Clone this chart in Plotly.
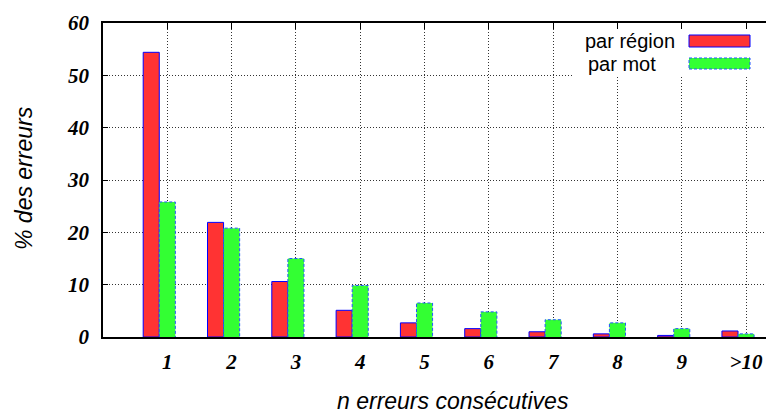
import plotly.graph_objects as go

categories = ["1", "2", "3", "4", "5", "6", "7", "8", "9", ">10"]
positions = [1, 2, 3, 4, 5, 6, 7, 8, 9, 10]
par_region = [54.4, 21.9, 10.6, 5.1, 2.7, 1.6, 1.0, 0.6, 0.3, 1.15]
par_mot = [25.8, 20.8, 15.0, 9.85, 6.5, 4.8, 3.3, 2.7, 1.6, 0.6]
y_ticks = [0, 10, 20, 30, 40, 50, 60]

W, H = 766, 416
L, R, T, B = 103, 0, 23, 79
PW, PH = W - L - R, H - T - B
XMAX = 10.31
BW = 0.25


def px(x):
    return (x - L) / PW


def py(y):
    return (H - B - y) / PH


tick_font = dict(family="Liberation Serif", size=21, color="black", weight="bold", style="italic")
sans = "Liberation Sans"

fig = go.Figure()
fig.add_trace(go.Bar(
    x=positions, y=par_region, width=BW, offset=-1.5 * BW,
    marker=dict(color="#ff3333", line=dict(color="#0000ff", width=1)),
    showlegend=False, name="par région"))
fig.add_trace(go.Bar(
    x=positions, y=par_mot, width=BW, offset=-0.5 * BW,
    marker=dict(color="#33ff33", line=dict(color="#33ff33", width=0)),
    showlegend=False, name="par mot"))

# dashed outline of the green bars, derived from the data
ox, oy = [], []
for p, v in zip(positions, par_mot):
    x0, x1 = p - 0.5 * BW, p + 0.5 * BW
    ox += [x0, x0, x1, x1, None]
    oy += [0, v, v, 0, None]
fig.add_trace(go.Scatter(x=ox, y=oy, mode="lines", line=dict(color="#2255ff", width=1, dash="3px,2px"),
                         showlegend=False, hoverinfo="skip"))
# dummy trace for top axis
fig.add_trace(go.Scatter(x=[], y=[], xaxis="x2", showlegend=False))

grid = dict(showgrid=True, gridcolor="#333", griddash="1px,2px", gridwidth=1)

fig.update_layout(
    width=W, height=H,
    margin=dict(l=L, r=R, t=T, b=B),
    paper_bgcolor="white", plot_bgcolor="white",
    barmode="overlay",
    xaxis=dict(range=[0, XMAX], tickvals=positions, ticktext=categories, tickfont=tick_font,
               showline=True, linecolor="black", linewidth=2, ticks="", zeroline=False,
               ticklabelstandoff=5, **grid),
    xaxis2=dict(range=[0, XMAX], overlaying="x", side="top", anchor="y", tickvals=positions,
                showticklabels=False, showgrid=False, showline=True, linecolor="black", linewidth=1.5,
                ticks="inside", ticklen=6, tickcolor="black", zeroline=False),
    yaxis=dict(range=[0, 60], tickvals=y_ticks, tickfont=tick_font,
               showline=True, linecolor="black", linewidth=1.5, ticks="inside", ticklen=5,
               tickcolor="black", zeroline=False, ticklabelstandoff=8, **grid),
)

shapes = [
    dict(type="rect", xref="paper", yref="paper", x0=px(572), x1=1.0, y0=py(76), y1=py(29),
         fillcolor="white", line=dict(width=0), layer="above"),
    dict(type="rect", xref="paper", yref="paper", x0=px(689), x1=px(750), y0=py(47), y1=py(35),
         fillcolor="#ff3333", line=dict(color="#0000ff", width=1), layer="above"),
    dict(type="rect", xref="paper", yref="paper", x0=px(689), x1=px(750), y0=py(69), y1=py(58),
         fillcolor="#33ff33", line=dict(color="#2255ff", width=1, dash="3px,2px"), layer="above"),
]
fig.update_layout(shapes=shapes)

annotations = [
    dict(text="par région", xref="paper", yref="paper", x=px(583), y=py(41), xanchor="left", yanchor="middle",
         showarrow=False, font=dict(family=sans, size=20, color="black")),
    dict(text="par mot", xref="paper", yref="paper", x=px(586), y=py(64), xanchor="left", yanchor="middle",
         showarrow=False, font=dict(family=sans, size=20, color="black")),
    dict(text="n erreurs consécutives", xref="paper", yref="paper", x=px(453), y=py(401),
         xanchor="center", yanchor="middle", showarrow=False,
         font=dict(family=sans, size=23, color="black", style="italic")),
    dict(text="% des erreurs", xref="paper", yref="paper", x=px(24), y=py(178),
         xanchor="center", yanchor="middle", showarrow=False, textangle=-90,
         font=dict(family=sans, size=23, color="black", style="italic")),
]
fig.update_layout(annotations=annotations)

fig.write_html("out.html", config={"displayModeBar": False},
               post_script="document.body.style.margin='0';document.body.style.padding='0';")
